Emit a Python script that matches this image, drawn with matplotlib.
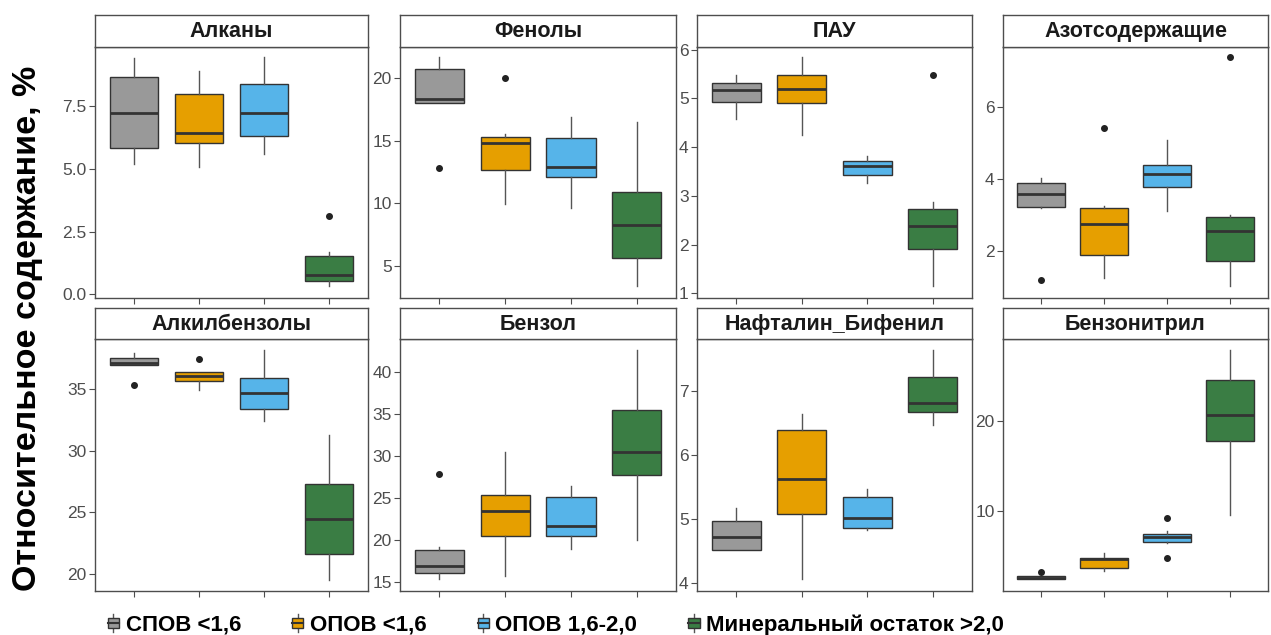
import matplotlib
matplotlib.use('Agg')
import matplotlib.pyplot as plt
from matplotlib.patches import Rectangle
from matplotlib.lines import Line2D
from matplotlib.legend_handler import HandlerBase

plt.rcParams['font.family'] = ['Liberation Sans', 'DejaVu Sans']

groups = ['СПОВ <1,6', 'ОПОВ <1,6', 'ОПОВ 1,6-2,0', 'Минеральный остаток >2,0']
colors = ['#999999', '#E69F00', '#56B4E9', '#3A7D44']

titles = ['Алканы', 'Фенолы', 'ПАУ', 'Азотсодержащие',
          'Алкилбензолы', 'Бензол', 'Нафталин_Бифенил', 'Бензонитрил']

# box stats per group: [whisker low, q1, median, q3, whisker high]
alkanes = [[5.21, 5.82, 7.23, 8.69, 9.41], [5.09, 6.02, 6.42, 8.00, 8.92],
           [5.58, 6.33, 7.23, 8.39, 9.45], [0.33, 0.52, 0.76, 1.52, 1.70]]
alkanes_out = [[], [], [], [3.14]]

phenols = [[18.05, 18.05, 18.38, 20.73, 21.69], [9.94, 12.67, 14.85, 15.33, 15.52],
           [9.62, 12.11, 12.93, 15.20, 16.89], [3.40, 5.65, 8.26, 10.93, 16.49]]
phenols_out = [[12.80], [20.0], [], []]

pah = [[4.57, 4.93, 5.17, 5.32, 5.47], [4.25, 4.91, 5.20, 5.48, 5.85],
       [3.26, 3.43, 3.62, 3.72, 3.81], [1.16, 1.90, 2.38, 2.74, 2.87]]
pah_out = [[], [], [], [5.47]]

nitrogen = [[3.18, 3.23, 3.58, 3.90, 4.02], [1.25, 1.87, 2.75, 3.20, 3.25],
            [3.12, 3.78, 4.14, 4.40, 5.08], [1.02, 1.72, 2.54, 2.93, 3.01]]
nitrogen_out = [[1.18], [5.41], [], [7.39]]

alkylbenz = [[36.98, 36.98, 37.09, 37.50, 37.95], [34.92, 35.68, 36.08, 36.36, 36.36],
             [32.43, 33.40, 34.68, 35.87, 38.17], [19.54, 21.66, 24.47, 27.34, 31.27]]
alkylbenz_out = [[35.35], [37.46], [], []]

benzene = [[15.28, 16.07, 16.87, 18.74, 19.17], [15.68, 20.42, 23.44, 25.38, 30.44],
           [18.86, 20.42, 21.69, 25.14, 26.46], [19.94, 27.77, 30.44, 35.46, 42.66]]
benzene_out = [[27.85], [], [], []]

naphth = [[4.51, 4.52, 4.72, 4.97, 5.17], [4.06, 5.08, 5.62, 6.38, 6.63],
          [4.83, 4.85, 5.02, 5.34, 5.46], [6.46, 6.66, 6.81, 7.21, 7.63]]
naphth_out = [[], [], [], []]

benzonitrile = [[2.45, 2.48, 2.60, 2.75, 2.80], [3.39, 3.65, 4.65, 4.83, 5.32],
                [6.42, 6.53, 7.09, 7.49, 7.75], [9.56, 17.75, 20.66, 24.47, 27.83]]
benzonitrile_out = [[3.24], [], [9.19, 4.76], []]

panel_data = [(alkanes, alkanes_out), (phenols, phenols_out), (pah, pah_out),
              (nitrogen, nitrogen_out), (alkylbenz, alkylbenz_out),
              (benzene, benzene_out), (naphth, naphth_out),
              (benzonitrile, benzonitrile_out)]

ylims = [(-0.14, 9.88), (2.44, 22.54), (0.91, 6.06), (0.69, 7.69),
         (18.65, 39.04), (13.92, 43.93), (3.88, 7.80), (1.17, 29.01)]
yticks = [[0, 2.5, 5, 7.5], [5, 10, 15, 20], [1, 2, 3, 4, 5, 6], [2, 4, 6],
          [20, 25, 30, 35], [15, 20, 25, 30, 35, 40], [4, 5, 6, 7], [10, 20]]
ytick_labels = [['0.0', '2.5', '5.0', '7.5'], None, None, None, None, None, None, None]


class BoxKey(HandlerBase):
    # small boxplot glyph for the legend
    def create_artists(self, legend, orig_handle, xdescent, ydescent,
                       width, height, fontsize, trans):
        bw, bh = width, height * 0.55
        by = (height - bh) / 2 - ydescent
        bx = -xdescent
        cx = bx + bw / 2
        box = Rectangle((bx, by), bw, bh, facecolor=orig_handle.get_facecolor(),
                        edgecolor='#333333', linewidth=1.0, transform=trans)
        med = Line2D([bx, bx + bw], [by + bh / 2] * 2, color='#333333',
                     linewidth=1.5, transform=trans)
        w1 = Line2D([cx, cx], [by + bh, by + bh + height * 0.22], color='#555555',
                    linewidth=1.0, transform=trans)
        w2 = Line2D([cx, cx], [by, by - height * 0.22], color='#555555',
                    linewidth=1.0, transform=trans)
        return [w1, w2, box, med]


W, H = 1271, 635
fig = plt.figure(figsize=(W / 100, H / 100), dpi=100)

cols = [(95, 368), (400, 676), (697, 972), (1003, 1268)]
rows = [(15, 46.7, 297.7), (308, 339.3, 590.7)]
frame = '#4D4D4D'

for i, (title, (stats, outs)) in enumerate(zip(titles, panel_data)):
    x0, x1 = cols[i % 4]
    s0, p0, p1 = rows[i // 4]
    ax = fig.add_axes([x0 / W, 1 - p1 / H, (x1 - x0) / W, (p1 - p0) / H])
    bxp_stats = []
    for s, o in zip(stats, outs):
        bxp_stats.append(dict(whislo=s[0], q1=s[1], med=s[2], q3=s[3],
                              whishi=s[4], fliers=o))
    b = ax.bxp(bxp_stats, positions=[1, 2, 3, 4], widths=0.75,
               patch_artist=True, showcaps=False,
               boxprops=dict(edgecolor='#333333', linewidth=1.0),
               medianprops=dict(color='#333333', linewidth=2.0),
               whiskerprops=dict(color='#555555', linewidth=1.0),
               flierprops=dict(marker='o', markerfacecolor='#222222',
                               markeredgecolor='#222222', markersize=4))
    for patch, c in zip(b['boxes'], colors):
        patch.set_facecolor(c)
    ax.set_xlim(0.4, 4.6)
    ax.set_ylim(*ylims[i])
    ax.set_yticks(yticks[i])
    if ytick_labels[i] is not None:
        ax.set_yticklabels(ytick_labels[i])
    ax.set_xticks([1, 2, 3, 4])
    ax.set_xticklabels([])
    ax.tick_params(axis='both', colors=frame, length=4, width=0.8,
                   labelsize=12.5, labelcolor='#4D4D4D', pad=2)
    for sp in ax.spines.values():
        sp.set_color(frame)
        sp.set_linewidth(1.0)

    # facet strip
    sx = fig.add_axes([x0 / W, 1 - p0 / H, (x1 - x0) / W, (p0 - s0) / H])
    sx.set_xticks([])
    sx.set_yticks([])
    for sp in sx.spines.values():
        sp.set_color(frame)
        sp.set_linewidth(1.0)
    sx.text(0.5, 0.47, title, ha='center', va='center', fontsize=15.5,
            fontweight='bold', color='#1A1A1A', transform=sx.transAxes)

fig.text(28 / W, 1 - 328 / H, 'Относительное содержание, %', rotation=90,
         ha='center', va='center', fontsize=24.5, fontweight='bold')

handles = [Rectangle((0, 0), 1, 1, facecolor=c) for c in colors]
fig.legend(handles, groups, loc='center', bbox_to_anchor=(556 / W, 1 - 625 / H),
           ncol=4, frameon=False, handlelength=0.5, handleheight=0.9,
           handletextpad=0.3, columnspacing=2.3,
           handler_map={Rectangle: BoxKey()},
           prop=dict(weight='bold', size=16))

fig.savefig('out.png', dpi=100, facecolor='white')
